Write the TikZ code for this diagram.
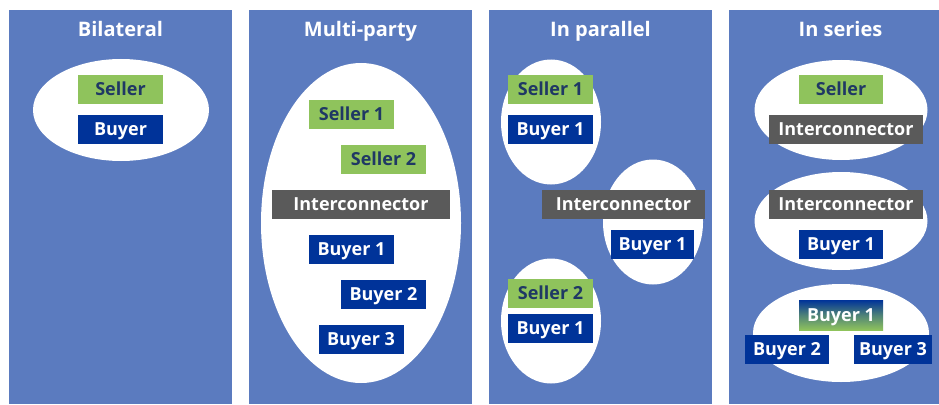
\documentclass[tikz,border=0pt]{standalone}
\usepackage{fontspec}
\setmainfont{Open Sans}
\usetikzlibrary{shapes.geometric}
\definecolor{panelblue}{HTML}{5B7BBF}
\definecolor{sellgreen}{HTML}{8FC35C}
\definecolor{navy}{HTML}{003399}
\definecolor{navytext}{HTML}{1F3864}
\definecolor{icgray}{HTML}{5A5A5A}
\begin{document}
\begin{tikzpicture}[x=1pt,y=-1pt,
  panel/.style={fill=panelblue,draw=none},
  title/.style={text=white,font=\bfseries\fontsize{20}{22}\selectfont,inner sep=0pt,text height=14.3pt,text depth=0pt},
  oval/.style={ellipse,fill=white,draw=none,inner sep=0pt},
  box/.style={inner sep=0pt,minimum width=85pt,minimum height=29pt,text height=12.85pt,text depth=-1pt,font=\bfseries\fontsize{18}{20}\selectfont},
  seller/.style={box,fill=sellgreen,text=navytext},
  buyer/.style={box,fill=navy,text=white},
  inter/.style={box,fill=icgray,text=white,minimum width=178pt},
  inters/.style={inter,minimum width=154pt},
  interp/.style={inter,minimum width=163pt},
  gbuyer/.style={box,top color=navy,bottom color=sellgreen,middle color=navy!45!sellgreen,text=white}
]
\useasboundingbox (0,0) rectangle (939,404);
\fill[white] (0,0) rectangle (939,404);
% panels
\fill[panel] (9,10) rectangle (232,404);
\fill[panel] (249,10) rectangle (472,404);
\fill[panel] (489,10) rectangle (712,404);
\fill[panel] (729,10) rectangle (939,404);
% titles
\node[title] (t1) at (120.5,29) {Bilateral};
\node[title] (t2) at (360.5,29) {Multi-party};
\node[title] (t3) at (600.5,29) {In parallel};
\node[title] (t4) at (840.5,29) {In series};
% ovals
\node[oval,minimum width=176pt,minimum height=102pt] (o1) at (121,110) {};
\node[oval,minimum width=200pt,minimum height=320pt] (o2) at (361,223) {};
\node[oval,minimum width=100pt,minimum height=125pt] (o3a) at (551,122) {};
\node[oval,minimum width=100pt,minimum height=125pt] (o3b) at (653,222) {};
\node[oval,minimum width=100pt,minimum height=125pt] (o3c) at (551,321) {};
\node[oval,minimum width=173pt,minimum height=100pt] (o4a) at (841,110) {};
\node[oval,minimum width=173pt,minimum height=98pt] (o4b) at (841,221) {};
\node[oval,minimum width=176pt,minimum height=98pt] (o4c) at (841,333) {};
% panel 1
\node[seller] (b1s) at (120.5,89.5) {Seller};
\node[buyer] (b1b) at (120.5,129.5) {Buyer};
% panel 2
\node[seller] (m2s1) at (351.5,114) {Seller 1};
\node[seller] (m2s2) at (383.5,159) {Seller 2};
\node[inter] (m2ic) at (361,204) {Interconnector};
\node[buyer] (m2b1) at (351.5,249) {Buyer 1};
\node[buyer] (m2b2) at (383.5,294) {Buyer 2};
\node[buyer] (m2b3) at (361,339) {Buyer 3};
% panel 3
\node[seller] (p3s1) at (550.5,89.5) {Seller 1};
\node[buyer] (p3b1) at (550.5,129.5) {Buyer 1};
\node[interp] (p3ic) at (623.5,204) {Interconnector};
\node[buyer,minimum width=83pt] (p3b1b) at (652.5,244) {Buyer 1};
\node[seller] (p3s2) at (550.5,293.5) {Seller 2};
\node[buyer] (p3b1c) at (550.5,328.5) {Buyer 1};
% panel 4
\node[seller,minimum width=84pt] (s4s) at (841,89.5) {Seller};
\node[inters] (s4ic) at (846,129.5) {Interconnector};
\node[inters] (s4ic2) at (846,204) {Interconnector};
\node[buyer,minimum width=84pt] (s4b1) at (841,244) {Buyer 1};
\node[gbuyer,minimum width=84pt,minimum height=30pt] (s4g) at (841,315) {Buyer 1};
\node[buyer,minimum width=84pt] (s4b2) at (787,349.5) {Buyer 2};
\node[buyer,minimum width=78pt] (s4b3) at (893,349.5) {Buyer 3};
\end{tikzpicture}
\end{document}
